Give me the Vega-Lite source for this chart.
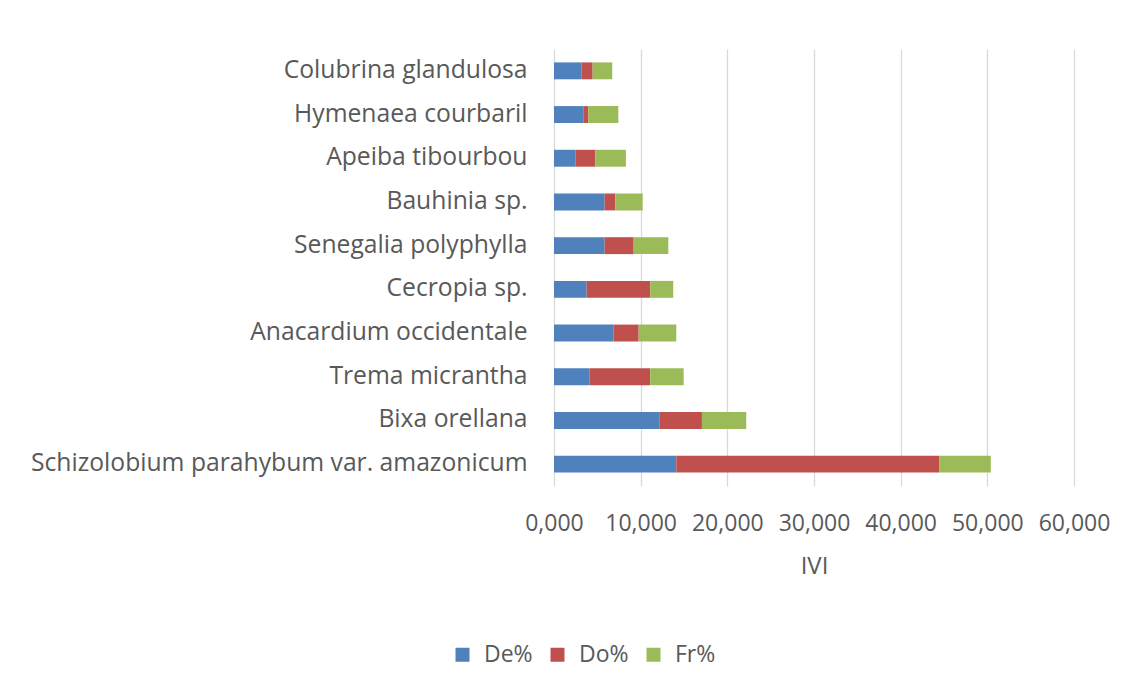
{
  "$schema": "https://vega.github.io/schema/vega-lite/v6.json",
  "width": 520,
  "height": 437,
  "autosize": {"type": "none"},
  "padding": {"left": 554, "top": 49, "right": 70, "bottom": 205},
  "background": "white",
  "config": {"view": {"stroke": null}, "font": "Open Sans"},
  "data": {
    "values": [
      {"species": "Schizolobium parahybum var. amazonicum", "component": "De%", "value": 14.11},
      {"species": "Schizolobium parahybum var. amazonicum", "component": "Do%", "value": 30.33},
      {"species": "Schizolobium parahybum var. amazonicum", "component": "Fr%", "value": 5.96},
      {"species": "Bixa orellana", "component": "De%", "value": 12.15},
      {"species": "Bixa orellana", "component": "Do%", "value": 4.92},
      {"species": "Bixa orellana", "component": "Fr%", "value": 5.11},
      {"species": "Trema micrantha", "component": "De%", "value": 4.12},
      {"species": "Trema micrantha", "component": "Do%", "value": 6.99},
      {"species": "Trema micrantha", "component": "Fr%", "value": 3.85},
      {"species": "Anacardium occidentale", "component": "De%", "value": 6.88},
      {"species": "Anacardium occidentale", "component": "Do%", "value": 2.89},
      {"species": "Anacardium occidentale", "component": "Fr%", "value": 4.34},
      {"species": "Cecropia sp.", "component": "De%", "value": 3.77},
      {"species": "Cecropia sp.", "component": "Do%", "value": 7.34},
      {"species": "Cecropia sp.", "component": "Fr%", "value": 2.65},
      {"species": "Senegalia polyphylla", "component": "De%", "value": 5.84},
      {"species": "Senegalia polyphylla", "component": "Do%", "value": 3.35},
      {"species": "Senegalia polyphylla", "component": "Fr%", "value": 4.00},
      {"species": "Bauhinia sp.", "component": "De%", "value": 5.84},
      {"species": "Bauhinia sp.", "component": "Do%", "value": 1.23},
      {"species": "Bauhinia sp.", "component": "Fr%", "value": 3.16},
      {"species": "Apeiba tibourbou", "component": "De%", "value": 2.50},
      {"species": "Apeiba tibourbou", "component": "Do%", "value": 2.27},
      {"species": "Apeiba tibourbou", "component": "Fr%", "value": 3.53},
      {"species": "Hymenaea courbaril", "component": "De%", "value": 3.38},
      {"species": "Hymenaea courbaril", "component": "Do%", "value": 0.58},
      {"species": "Hymenaea courbaril", "component": "Fr%", "value": 3.46},
      {"species": "Colubrina glandulosa", "component": "De%", "value": 3.19},
      {"species": "Colubrina glandulosa", "component": "Do%", "value": 1.27},
      {"species": "Colubrina glandulosa", "component": "Fr%", "value": 2.26}
    ]
  },
  "mark": {"type": "bar"},
  "encoding": {
    "y": {
      "field": "species",
      "type": "nominal",
      "sort": ["Colubrina glandulosa", "Hymenaea courbaril", "Apeiba tibourbou", "Bauhinia sp.", "Senegalia polyphylla", "Cecropia sp.", "Anacardium occidentale", "Trema micrantha", "Bixa orellana", "Schizolobium parahybum var. amazonicum"],
      "scale": {"paddingInner": 0.613, "paddingOuter": 0.3065},
      "axis": {
        "title": null,
        "domain": false,
        "ticks": false,
        "grid": false,
        "labelPadding": 27,
        "labelFontSize": 24.7,
        "labelColor": "#595959",
        "labelLimit": 700
      }
    },
    "x": {
      "field": "value",
      "type": "quantitative",
      "stack": "zero",
      "scale": {"domain": [0, 60], "nice": false},
      "axis": {
        "values": [0, 10, 20, 30, 40, 50, 60],
        "labelExpr": "replace(format(datum.value, '.3f'), '.', ',')",
        "grid": true,
        "gridColor": "#D9D9D9",
        "gridWidth": 1.3,
        "domain": false,
        "ticks": false,
        "labelPadding": 26,
        "labelFontSize": 23,
        "labelColor": "#595959",
        "labelFlush": false,
        "labelOverlap": false,
        "title": "IVI",
        "titleFontSize": 24,
        "titleFontWeight": "normal",
        "titleColor": "#595959",
        "titlePadding": 19
      }
    },
    "color": {
      "field": "component",
      "type": "nominal",
      "scale": {"domain": ["De%", "Do%", "Fr%"], "range": ["#4F81BD", "#C0504D", "#9BBB59"]},
      "legend": {
        "title": null,
        "orient": "none",
        "direction": "horizontal",
        "legendX": -103,
        "legendY": 594,
        "padding": 0,
        "symbolType": "square",
        "symbolSize": 196,
        "symbolStrokeWidth": 0,
        "symbolOpacity": 1,
        "labelFontSize": 23,
        "labelColor": "#595959",
        "labelOffset": 10,
        "columnPadding": 13
      }
    }
  }
}
